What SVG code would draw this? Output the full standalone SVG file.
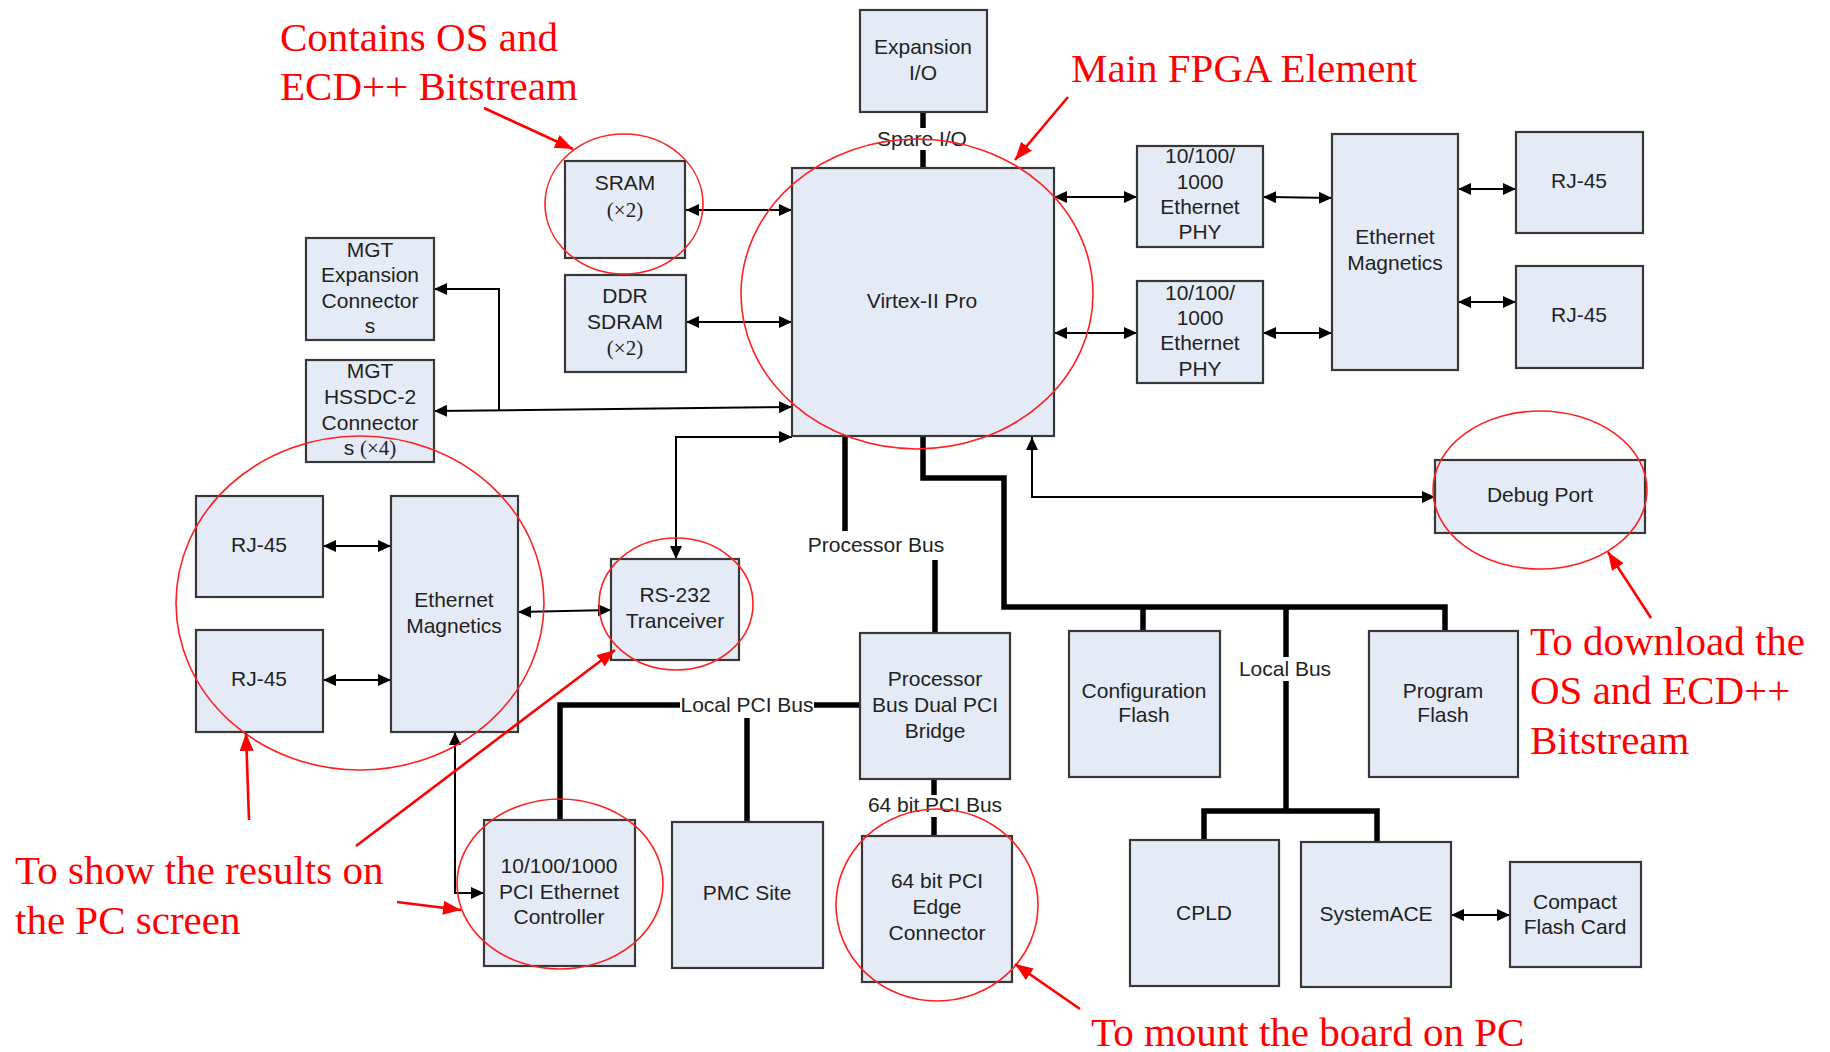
<svg xmlns="http://www.w3.org/2000/svg" width="1830" height="1052" viewBox="0 0 1830 1052">
  <style>
    .box { fill: #e5ebf6; stroke: #383838; stroke-width: 2.2; }
    .lbl { font-family: "Liberation Sans", Arial, sans-serif; font-size: 21px; fill: #222; text-anchor: middle; }
    .ser { font-family: "Liberation Serif", "Times New Roman", serif; }
    .note { font-family: "Liberation Serif", "Times New Roman", serif; font-size: 41px; fill: #ff0000; }
    .wire { fill: none; stroke: #000; stroke-width: 2; }
    .bus { fill: none; stroke: #000; stroke-width: 5.5; }
    .ring { fill: none; stroke: #ff2020; stroke-width: 1.6; }
    .pointer { fill: none; stroke: #ff0000; stroke-width: 2.6; }
    .tag { fill: #ffffff; }
  </style>
  <defs>
    <marker id="ah" markerUnits="userSpaceOnUse" markerWidth="13" markerHeight="12" refX="13" refY="6" orient="auto-start-reverse">
      <path d="M0,0 L13,6 L0,12 z" fill="#000"/>
    </marker>
    <marker id="rh" markerUnits="userSpaceOnUse" markerWidth="18" markerHeight="14" refX="18" refY="7" orient="auto">
      <path d="M0,0 L18,7 L0,14 z" fill="#ff0000"/>
    </marker>
  </defs>

  <rect width="1830" height="1052" fill="#ffffff"/>

  <!-- connectors -->
  <g id="connectors">
    <!-- expansion I/O to FPGA -->
    <line class="bus" x1="923" y1="112" x2="923" y2="168"/>
    <!-- memories -->
    <line class="wire" x1="686" y1="210" x2="792" y2="210" marker-start="url(#ah)" marker-end="url(#ah)"/>
    <line class="wire" x1="686" y1="322" x2="792" y2="322" marker-start="url(#ah)" marker-end="url(#ah)"/>
    <!-- MGT -->
    <line class="wire" x1="434" y1="411" x2="792" y2="407" marker-start="url(#ah)" marker-end="url(#ah)"/>
    <polyline class="wire" points="499,410 499,289 434,289" marker-end="url(#ah)"/>
    <!-- RS-232 -->
    <polyline class="wire" points="676,559 676,437 792,437" marker-start="url(#ah)" marker-end="url(#ah)"/>
    <line class="wire" x1="518" y1="612" x2="611" y2="610" marker-start="url(#ah)" marker-end="url(#ah)"/>
    <!-- left ethernet -->
    <line class="wire" x1="323" y1="546" x2="391" y2="546" marker-start="url(#ah)" marker-end="url(#ah)"/>
    <line class="wire" x1="323" y1="680" x2="391" y2="680" marker-start="url(#ah)" marker-end="url(#ah)"/>
    <polyline class="wire" points="484,893 455,893 455,732" marker-start="url(#ah)" marker-end="url(#ah)"/>
    <!-- local PCI bus -->
    <polyline class="bus" points="560,820 560,705 860,705"/>
    <line class="bus" x1="747" y1="718" x2="747" y2="822"/>
    <!-- processor bus -->
    <line class="bus" x1="845" y1="436" x2="845" y2="531"/>
    <line class="bus" x1="935" y1="560" x2="935" y2="633"/>
    <!-- 64 bit PCI bus -->
    <line class="bus" x1="934" y1="778" x2="934" y2="836"/>
    <!-- local bus -->
    <polyline class="bus" points="923,436 923,478 1004,478 1004,607 1445,607 1445,631"/>
    <line class="bus" x1="1143" y1="607" x2="1143" y2="631"/>
    <line class="bus" x1="1286" y1="607" x2="1286" y2="811"/>
    <polyline class="bus" points="1204,840 1204,811 1377,811 1377,842"/>
    <line class="wire" x1="1451" y1="915" x2="1510" y2="915" marker-start="url(#ah)" marker-end="url(#ah)"/>
    <!-- debug port -->
    <polyline class="wire" points="1032,437 1032,497 1435,497" marker-start="url(#ah)" marker-end="url(#ah)"/>
    <!-- right ethernet -->
    <line class="wire" x1="1054" y1="197" x2="1137" y2="197" marker-start="url(#ah)" marker-end="url(#ah)"/>
    <line class="wire" x1="1054" y1="333" x2="1137" y2="333" marker-start="url(#ah)" marker-end="url(#ah)"/>
    <line class="wire" x1="1263" y1="197" x2="1332" y2="198" marker-start="url(#ah)" marker-end="url(#ah)"/>
    <line class="wire" x1="1263" y1="333" x2="1332" y2="333" marker-start="url(#ah)" marker-end="url(#ah)"/>
    <line class="wire" x1="1458" y1="189" x2="1516" y2="189" marker-start="url(#ah)" marker-end="url(#ah)"/>
    <line class="wire" x1="1458" y1="302" x2="1516" y2="302" marker-start="url(#ah)" marker-end="url(#ah)"/>
    <!-- bus labels -->
    <g class="lbl">
      <rect class="tag" x="880" y="128" width="86" height="22"/>
      <text x="922" y="146">Spare I/O</text>
      <rect class="tag" x="808" y="533" width="138" height="24"/>
      <text x="876" y="552">Processor Bus</text>
      <rect class="tag" x="680" y="694" width="134" height="24"/>
      <text x="747" y="712">Local PCI Bus</text>
      <rect class="tag" x="866" y="795" width="138" height="22"/>
      <text x="935" y="812">64 bit PCI Bus</text>
      <rect class="tag" x="1238" y="657" width="96" height="24"/>
      <text x="1285" y="676">Local Bus</text>
    </g>
  </g>

  <!-- nodes -->
  <g id="expansion-io">
    <rect class="box" x="860" y="10" width="127" height="102"/>
    <text class="lbl" x="923" y="54">Expansion</text>
    <text class="lbl" x="923" y="80">I/O</text>
  </g>
  <g id="virtex">
    <rect class="box" x="792" y="168" width="262" height="268"/>
    <text class="lbl" x="922" y="308">Virtex-II Pro</text>
  </g>
  <g id="sram">
    <rect class="box" x="565" y="161" width="120" height="97"/>
    <text class="lbl" x="625" y="190">SRAM</text>
    <text class="lbl ser" x="625" y="217">(×2)</text>
  </g>
  <g id="ddr-sdram">
    <rect class="box" x="565" y="275" width="121" height="97"/>
    <text class="lbl" x="625" y="303">DDR</text>
    <text class="lbl" x="625" y="329">SDRAM</text>
    <text class="lbl ser" x="625" y="355">(×2)</text>
  </g>
  <g id="mgt-expansion">
    <rect class="box" x="306" y="238" width="128" height="102"/>
    <text class="lbl" x="370" y="257">MGT</text>
    <text class="lbl" x="370" y="282">Expansion</text>
    <text class="lbl" x="370" y="308">Connector</text>
    <text class="lbl" x="370" y="333">s</text>
  </g>
  <g id="mgt-hssdc">
    <rect class="box" x="306" y="360" width="128" height="102"/>
    <text class="lbl" x="370" y="378">MGT</text>
    <text class="lbl" x="370" y="404">HSSDC-2</text>
    <text class="lbl" x="370" y="430">Connector</text>
    <text class="lbl" x="370" y="455">s <tspan class="ser">(×4)</tspan></text>
  </g>
  <g id="rj45-left-1">
    <rect class="box" x="196" y="496" width="127" height="101"/>
    <text class="lbl" x="259" y="552">RJ-45</text>
  </g>
  <g id="rj45-left-2">
    <rect class="box" x="196" y="630" width="127" height="102"/>
    <text class="lbl" x="259" y="686">RJ-45</text>
  </g>
  <g id="magnetics-left">
    <rect class="box" x="391" y="496" width="127" height="236"/>
    <text class="lbl" x="454" y="607">Ethernet</text>
    <text class="lbl" x="454" y="633">Magnetics</text>
  </g>
  <g id="rs232">
    <rect class="box" x="611" y="559" width="128" height="101"/>
    <text class="lbl" x="675" y="602">RS-232</text>
    <text class="lbl" x="675" y="628">Tranceiver</text>
  </g>
  <g id="pci-ethernet">
    <rect class="box" x="484" y="820" width="151" height="146"/>
    <text class="lbl" x="559" y="873">10/100/1000</text>
    <text class="lbl" x="559" y="899">PCI Ethernet</text>
    <text class="lbl" x="559" y="924">Controller</text>
  </g>
  <g id="pmc-site">
    <rect class="box" x="672" y="822" width="151" height="146"/>
    <text class="lbl" x="747" y="900">PMC Site</text>
  </g>
  <g id="pci-bridge">
    <rect class="box" x="860" y="633" width="150" height="146"/>
    <text class="lbl" x="935" y="686">Processor</text>
    <text class="lbl" x="935" y="712">Bus Dual PCI</text>
    <text class="lbl" x="935" y="738">Bridge</text>
  </g>
  <g id="pci-edge">
    <rect class="box" x="862" y="836" width="150" height="146"/>
    <text class="lbl" x="937" y="888">64 bit PCI</text>
    <text class="lbl" x="937" y="914">Edge</text>
    <text class="lbl" x="937" y="940">Connector</text>
  </g>
  <g id="config-flash">
    <rect class="box" x="1069" y="631" width="151" height="146"/>
    <text class="lbl" x="1144" y="698">Configuration</text>
    <text class="lbl" x="1144" y="722">Flash</text>
  </g>
  <g id="program-flash">
    <rect class="box" x="1369" y="631" width="149" height="146"/>
    <text class="lbl" x="1443" y="698">Program</text>
    <text class="lbl" x="1443" y="722">Flash</text>
  </g>
  <g id="cpld">
    <rect class="box" x="1130" y="840" width="149" height="146"/>
    <text class="lbl" x="1204" y="920">CPLD</text>
  </g>
  <g id="systemace">
    <rect class="box" x="1301" y="842" width="150" height="145"/>
    <text class="lbl" x="1376" y="921">SystemACE</text>
  </g>
  <g id="compact-flash">
    <rect class="box" x="1510" y="862" width="131" height="105"/>
    <text class="lbl" x="1575" y="909">Compact</text>
    <text class="lbl" x="1575" y="934">Flash Card</text>
  </g>
  <g id="debug-port">
    <rect class="box" x="1435" y="460" width="210" height="73"/>
    <text class="lbl" x="1540" y="502">Debug Port</text>
  </g>
  <g id="phy-1">
    <rect class="box" x="1137" y="146" width="126" height="101"/>
    <text class="lbl" x="1200" y="163">10/100/</text>
    <text class="lbl" x="1200" y="189">1000</text>
    <text class="lbl" x="1200" y="214">Ethernet</text>
    <text class="lbl" x="1200" y="239">PHY</text>
  </g>
  <g id="phy-2">
    <rect class="box" x="1137" y="281" width="126" height="102"/>
    <text class="lbl" x="1200" y="300">10/100/</text>
    <text class="lbl" x="1200" y="325">1000</text>
    <text class="lbl" x="1200" y="350">Ethernet</text>
    <text class="lbl" x="1200" y="376">PHY</text>
  </g>
  <g id="magnetics-right">
    <rect class="box" x="1332" y="134" width="126" height="236"/>
    <text class="lbl" x="1395" y="244">Ethernet</text>
    <text class="lbl" x="1395" y="270">Magnetics</text>
  </g>
  <g id="rj45-right-1">
    <rect class="box" x="1516" y="132" width="127" height="101"/>
    <text class="lbl" x="1579" y="188">RJ-45</text>
  </g>
  <g id="rj45-right-2">
    <rect class="box" x="1516" y="266" width="127" height="102"/>
    <text class="lbl" x="1579" y="322">RJ-45</text>
  </g>

  <!-- annotation rings -->
  <g id="rings">
    <ellipse class="ring" cx="917" cy="294" rx="176" ry="155"/>
    <ellipse class="ring" cx="624" cy="204" rx="79" ry="70"/>
    <ellipse class="ring" cx="360" cy="603" rx="184" ry="167"/>
    <ellipse class="ring" cx="676" cy="604" rx="77" ry="66"/>
    <ellipse class="ring" cx="560" cy="884" rx="103" ry="85"/>
    <ellipse class="ring" cx="937" cy="905" rx="101" ry="96"/>
    <ellipse class="ring" cx="1540" cy="490" rx="107" ry="79"/>
  </g>

  <!-- annotation pointers -->
  <g id="pointers">
    <line class="pointer" x1="484" y1="108" x2="573" y2="149" marker-end="url(#rh)"/>
    <line class="pointer" x1="1068" y1="97" x2="1015" y2="160" marker-end="url(#rh)"/>
    <line class="pointer" x1="1651" y1="618" x2="1608" y2="552" marker-end="url(#rh)"/>
    <line class="pointer" x1="249" y1="820" x2="246" y2="733" marker-end="url(#rh)"/>
    <line class="pointer" x1="356" y1="846" x2="615" y2="650" marker-end="url(#rh)"/>
    <line class="pointer" x1="397" y1="902" x2="461" y2="910" marker-end="url(#rh)"/>
    <line class="pointer" x1="1080" y1="1009" x2="1015" y2="964" marker-end="url(#rh)"/>
  </g>

  <!-- annotation notes -->
  <g id="notes" class="note">
    <text x="280" y="51">Contains OS and</text>
    <text x="280" y="100">ECD++ Bitstream</text>
    <text x="1071" y="82">Main FPGA Element</text>
    <text x="1530" y="655">To download the</text>
    <text x="1530" y="704">OS and ECD++</text>
    <text x="1530" y="754">Bitstream</text>
    <text x="15" y="884">To show the results on</text>
    <text x="15" y="934">the PC screen</text>
    <text x="1091" y="1046">To mount the board on PC</text>
  </g>
</svg>
